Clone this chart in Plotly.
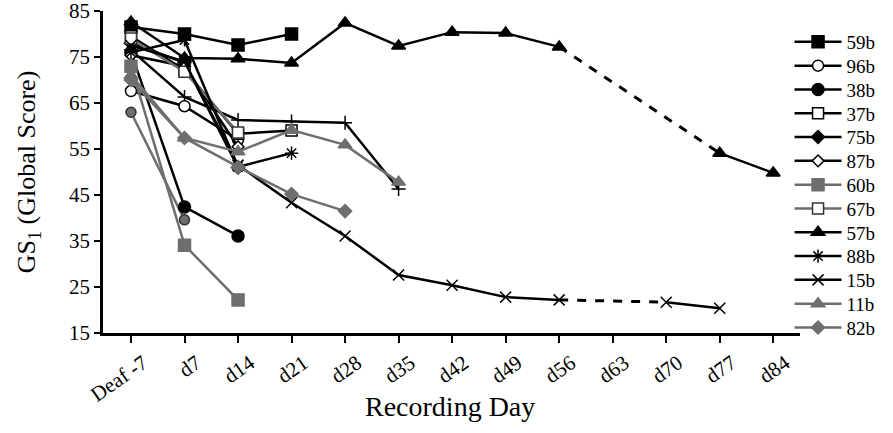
import plotly.graph_objects as go

tick_labels = ["Deaf -7", "d7", "d14", "d21", "d28", "d35", "d42", "d49", "d56", "d63", "d70", "d77", "d84"]
y_ticks = [15, 25, 35, 45, 55, 65, 75, 85]

s59b = [81.5, 80.0, 77.6, 80.0]
s96b = [67.6, 64.3, 57.0]
s38b = [76.0, 42.4, 36.1]
s37b = [79.5, 72.2, 58.3, 59.0]
s75b = [78.0, 73.8, 51.0]
s87b = [75.4, 73.0, 55.5]
s60b = [73.0, 34.1, 22.2]
s67b = [79.0, 71.8, 58.6]
s57b_a = [82.6, 74.8, 74.6, 73.7, 82.4, 77.4, 80.4, 80.2, 77.2]
s57b_b = [54.1, 49.8]
s88b = [76.0, 78.7, 51.1, 54.1]
s15b_a = [77.5, 74.0, 51.5, 43.3, 36.1, 27.6, 25.4, 22.8, 22.2]
s15b_b = [21.7, 20.4]
s11b = [71.0, 57.4, 54.4, 59.1, 55.9, 47.8]
s82b = [70.0, 57.4, 51.1, 45.2, 41.5]
s_plus = [76.5, 66.3, 61.3, 61.0, 60.7, 46.3]
s_grey_circle = [63.0, 39.6]

legend_order = ["59b", "96b", "38b", "37b", "75b", "87b", "60b", "67b", "57b", "88b", "15b", "11b", "82b"]

BLACK = "#000000"
GREY = "#6e6e6e"

fig = go.Figure()

def idx(vals, start=0):
    return list(range(start, start + len(vals)))

def legend_ref(name):
    i = legend_order.index(name)
    return "legend" if i == 0 else "legend%d" % (i + 1)

def add(name, x, y, color, symbol, fill, size=10, legend=True, edge=None):
    kw = {}
    if legend:
        kw["legend"] = legend_ref(name)
    fig.add_trace(go.Scatter(
        x=x, y=y, name=name, mode="lines+markers", showlegend=legend,
        line=dict(color=color, width=2.5),
        marker=dict(symbol=symbol, size=size, color=fill,
                    line=dict(color=edge if edge else color, width=1.5)),
        **kw
    ))

# dashed connectors (no markers)
fig.add_trace(go.Scatter(x=[8, 11], y=[s57b_a[-1], s57b_b[0]], mode="lines", showlegend=False,
                         line=dict(color=BLACK, width=3, dash="dash")))
fig.add_trace(go.Scatter(x=[8, 10], y=[s15b_a[-1], s15b_b[0]], mode="lines", showlegend=False,
                         line=dict(color=BLACK, width=3, dash="dash")))

add("grey_circle", idx(s_grey_circle), s_grey_circle, GREY, "circle", GREY, size=10, legend=False, edge="#333333")
add("plus", idx(s_plus), s_plus, BLACK, "cross-thin-open", BLACK, size=10, legend=False)

add("59b", idx(s59b), s59b, BLACK, "square", BLACK, size=12)
add("96b", idx(s96b), s96b, BLACK, "circle", "white", size=11)
add("38b", idx(s38b), s38b, BLACK, "circle", BLACK, size=12)
add("37b", idx(s37b), s37b, BLACK, "square", "white", size=11)
add("75b", idx(s75b), s75b, BLACK, "diamond", BLACK, size=10)
add("87b", idx(s87b), s87b, BLACK, "diamond", "white", size=9)
add("60b", idx(s60b), s60b, GREY, "square", GREY, size=12)
add("67b", idx(s67b), s67b, GREY, "square", "white", size=11, edge="#333333")
add("57b", idx(s57b_a), s57b_a, BLACK, "triangle-up", BLACK, size=12)
add("57b", [11, 12], s57b_b, BLACK, "triangle-up", BLACK, size=12, legend=False)
add("88b", idx(s88b), s88b, BLACK, "asterisk-open", BLACK, size=11)
add("15b", idx(s15b_a), s15b_a, BLACK, "x-thin-open", BLACK, size=11)
add("15b", [10, 11], s15b_b, BLACK, "x-thin-open", BLACK, size=11, legend=False)
add("11b", idx(s11b), s11b, GREY, "triangle-up", GREY, size=12)
add("82b", idx(s82b), s82b, GREY, "diamond", GREY, size=10)

PLOT_TOP, PLOT_BOTTOM = 11, 333
layout_legends = {}
for i, name in enumerate(legend_order):
    center_px = 42 + i * 23.8
    ypaper = (PLOT_BOTTOM - center_px) / (PLOT_BOTTOM - PLOT_TOP)
    key = "legend" if i == 0 else "legend%d" % (i + 1)
    layout_legends[key] = dict(
        x=0.985, y=ypaper, xanchor="left", yanchor="middle",
        font=dict(size=19, family="Liberation Serif", color="black"),
        itemwidth=47, bgcolor="rgba(0,0,0,0)",
    )

fig.update_layout(
    width=893, height=433,
    margin=dict(l=103, r=93, t=11, b=100),
    plot_bgcolor="white", paper_bgcolor="white",
    font=dict(family="Liberation Serif", color="black", size=18),
    xaxis=dict(
        range=[-0.523, 12.5], tickmode="array", tickvals=list(range(len(tick_labels))),
        ticktext=tick_labels, tickangle=-35, showline=True, linecolor="black", linewidth=2.5,
        ticks="outside", ticklen=7, tickwidth=1.5, tickcolor="black", showgrid=False, zeroline=False,
        tickfont=dict(size=21, color="black"), automargin=False, ticklabeloverflow="allow",
        ticklabelshift=12,
    ),
    yaxis=dict(
        range=[15, 85], tickmode="array", tickvals=y_ticks, showline=True, linecolor="black",
        linewidth=2.5, ticks="outside", ticklen=6, tickwidth=1.5, tickcolor="black",
        showgrid=False, zeroline=False, tickfont=dict(size=21, color="black"), automargin=False,
        ticklabeloverflow="allow",
        title=dict(text="GS<sub>1</sub> (Global Score)", font=dict(size=26, color="black"), standoff=26),
    ),
    annotations=[dict(
        text="Recording Day", xref="paper", yref="paper", x=0.498, y=(PLOT_BOTTOM - 407) / (PLOT_BOTTOM - PLOT_TOP),
        xanchor="center", yanchor="middle", showarrow=False,
        font=dict(size=28, color="black", family="Liberation Serif"),
    )],
    **layout_legends
)

fig.write_html("out.html")
